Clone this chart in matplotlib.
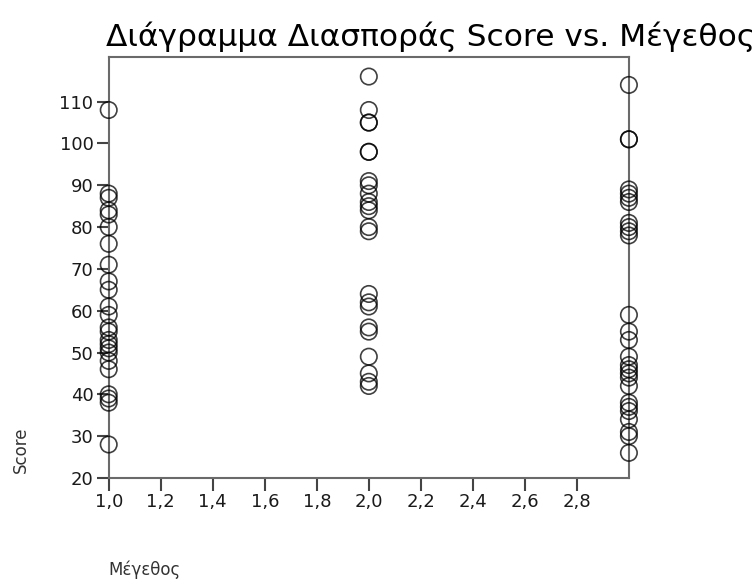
import numpy as np
import matplotlib
matplotlib.use("Agg")
import matplotlib.pyplot as plt

# Score values, one list per Μέγεθος group
size_1 = [108, 88, 87, 84, 83, 80, 76, 71, 67, 65, 61, 59, 56, 55,
          53, 52, 51, 50, 48, 46, 40, 39, 38, 28]
size_2 = [116, 108, 105, 105, 98, 98, 91, 90, 88, 86, 85, 84, 80, 79,
          64, 62, 61, 56, 55, 49, 45, 43, 42]
size_3 = [114, 101, 101, 89, 88, 87, 86, 81, 80, 79, 78, 59, 55, 53,
          49, 47, 46, 45, 44, 42, 38, 37, 36, 34, 31, 30, 26]

x_ticks = [1.0, 1.2, 1.4, 1.6, 1.8, 2.0, 2.2, 2.4, 2.6, 2.8]
x_labels = ["1,0", "1,2", "1,4", "1,6", "1,8", "2,0", "2,2", "2,4", "2,6", "2,8"]
y_ticks = [20, 30, 40, 50, 60, 70, 80, 90, 100, 110]

plt.rcParams['font.family'] = ['DejaVu Sans']

fig = plt.figure(figsize=(7.55, 5.85), dpi=100)
ax = fig.add_axes([0.144, 0.183, 0.689, 0.719])

for xv, ys in [(1, size_1), (2, size_2), (3, size_3)]:
    ax.scatter([xv] * len(ys), ys, s=140, facecolors='none',
               edgecolors='black', linewidths=1.2, alpha=0.75,
               zorder=3, clip_on=False)

ax.set_xlim(1, 3)
ax.set_ylim(20, 120.6)
ax.set_xticks(x_ticks)
ax.set_xticklabels(x_labels)
ax.set_yticks(y_ticks)

for sp in ax.spines.values():
    sp.set_color('#6a6a6a')
    sp.set_linewidth(1.5)

ax.tick_params(axis='both', direction='out', length=9, width=1.5,
               color='#444444', labelsize=13, labelcolor='#1a1a1a', pad=2)

ax.set_title("Διάγραμμα Διασποράς Score vs. Μέγεθος", loc='left',
             fontsize=22.5, pad=8, x=-0.005)

fig.text(0.028, 0.232, "Score", rotation=90, ha='center', va='center',
         fontsize=12, color='#333333')
fig.text(0.144, 0.026, "Μέγεθος", ha='left', va='center',
         fontsize=12, color='#333333')

fig.savefig("out.png", dpi=100)
